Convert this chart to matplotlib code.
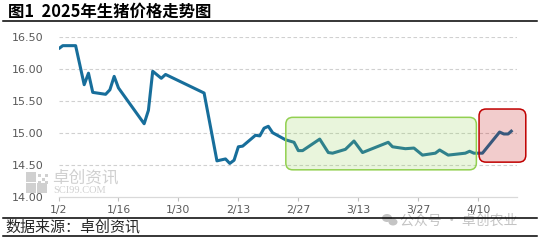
import matplotlib
matplotlib.use("Agg")
import matplotlib.pyplot as plt
import matplotlib.dates as mdates
import numpy as np
import pandas as pd
from matplotlib.patches import FancyBboxPatch, Rectangle, Ellipse
from matplotlib.transforms import IdentityTransform
from matplotlib.colors import to_rgba

# ---- data: 2025 live hog price (yuan/kg) ----
dates = ["2025-01-02", "2025-01-03", "2025-01-06", "2025-01-08", "2025-01-09",
         "2025-01-10", "2025-01-13", "2025-01-14", "2025-01-15", "2025-01-16",
         "2025-01-22", "2025-01-23", "2025-01-24", "2025-01-26", "2025-01-27",
         "2025-02-05", "2025-02-08", "2025-02-10", "2025-02-11", "2025-02-12",
         "2025-02-13", "2025-02-14", "2025-02-17", "2025-02-18", "2025-02-19",
         "2025-02-20", "2025-02-21", "2025-02-24", "2025-02-26", "2025-02-27",
         "2025-02-28", "2025-03-04", "2025-03-06", "2025-03-07", "2025-03-10",
         "2025-03-12", "2025-03-14", "2025-03-17", "2025-03-20", "2025-03-21",
         "2025-03-24", "2025-03-26", "2025-03-28", "2025-03-31", "2025-04-01",
         "2025-04-03", "2025-04-07", "2025-04-08", "2025-04-09", "2025-04-11",
         "2025-04-15", "2025-04-16", "2025-04-17", "2025-04-18"]
prices = [16.31, 16.36, 16.36, 15.75, 15.93,
          15.63, 15.60, 15.67, 15.88, 15.70,
          15.14, 15.35, 15.96, 15.85, 15.91,
          15.62, 14.56, 14.59, 14.52, 14.57,
          14.78, 14.79, 14.96, 14.95, 15.07,
          15.10, 15.00, 14.89, 14.85, 14.72,
          14.72, 14.90, 14.69, 14.68, 14.74,
          14.87, 14.69, 14.77, 14.85, 14.78,
          14.75, 14.76, 14.65, 14.68, 14.73,
          14.65, 14.68, 14.71, 14.68, 14.68,
          15.01, 14.98, 14.98, 15.04]

tick_dates = ["2025-01-02", "2025-01-16", "2025-01-30", "2025-02-13",
              "2025-02-27", "2025-03-13", "2025-03-27", "2025-04-10"]
tick_labels = ["1/2", "1/16", "1/30", "2/13", "2/27", "3/13", "3/27", "4/10"]
y_ticks = [14.0, 14.5, 15.0, 15.5, 16.0, 16.5]

title = "图1  2025年生猪价格走势图"
source = "数据来源：卓创资讯"

# highlighted periods: (start date, end date, low, high)
range_box = ("2025-02-24 02:00", "2025-04-09 14:00", 14.42, 15.24)
rise_box = ("2025-04-10 05:00", "2025-04-21 03:00", 14.54, 15.37)

plt.rcParams["font.family"] = ["DejaVu Sans", "Noto Sans CJK SC"]
cjk = ["Noto Sans CJK SC", "DejaVu Sans"]

W, H = 541, 240
fig = plt.figure(figsize=(W / 100, H / 100), dpi=100)
fig.patch.set_facecolor("white")

ax = fig.add_axes([58.5 / W, (H - 196.7) / H, (516.7 - 58.5) / W, 160 / H])
x = mdates.date2num(pd.to_datetime(dates))
x0 = mdates.date2num(pd.Timestamp("2025-01-02"))
ax.set_xlim(x0, x0 + 107)
ax.set_ylim(14.0, 16.5)

ax.plot(x, prices, color="#176E9B", lw=2.2, solid_joinstyle="round",
        solid_capstyle="butt", zorder=3)

# axes styling
for s in ["top", "right", "left"]:
    ax.spines[s].set_visible(False)
ax.spines["bottom"].set_color("#D9D9D9")
ax.spines["bottom"].set_linewidth(0.9)
ax.set_yticks(y_ticks)
ax.set_yticklabels([f"{v:.2f}" for v in y_ticks])
ax.set_xticks(mdates.date2num(pd.to_datetime(tick_dates)))
ax.set_xticklabels(tick_labels)
ax.tick_params(axis="y", length=0, pad=11, labelsize=8, labelcolor="#595959")
ax.tick_params(axis="x", length=3, width=0.8, color="#BFBFBF", pad=3,
               labelsize=7.8, labelcolor="#595959")
for v in y_ticks[1:]:
    ax.axhline(v, color="#D0D0D0", lw=0.8, ls=(0, (3.2, 2.2)), zorder=1)


def highlight(box, edge):
    xa = mdates.date2num(pd.Timestamp(box[0]))
    xb = mdates.date2num(pd.Timestamp(box[1]))
    pa = ax.transData.transform((xa, box[2]))
    pb = ax.transData.transform((xb, box[3]))
    patch = FancyBboxPatch((pa[0], pa[1]), pb[0] - pa[0], pb[1] - pa[1],
                           boxstyle="round,pad=0,rounding_size=7",
                           transform=IdentityTransform(),
                           facecolor=to_rgba(edge, 0.2), edgecolor=edge,
                           lw=1.1, zorder=4, clip_on=False)
    ax.add_patch(patch)


highlight(range_box, "#92D050")
highlight(rise_box, "#C00000")

# header and footer rules
px = fig.transFigure
for yy in [H - 21, H - 218, H - 236]:
    fig.add_artist(plt.Line2D([3 / W, 537 / W], [yy / H, yy / H],
                              color="black", lw=1.1, transform=px))

fig.text(8 / W, (H - 12) / H, title, family=cjk, fontsize=11.8,
         fontweight="bold", color="black", va="center", ha="left")
fig.text(5 / W, (H - 227) / H, source, family=cjk, fontsize=10.8,
         color="#262626", va="center", ha="left")

# SCI99 watermark logo
wm = "#D0D0D0"
for (lx, ly, s) in [(26, 172, 10), (26, 183, 10), (37, 183, 10)]:
    fig.add_artist(Rectangle((lx / W, (H - ly - s) / H), s / W, s / H,
                             transform=px, color=wm, lw=0, zorder=0))
for i in range(3):
    for j in range(3):
        if (i + j) % 2 == 0:
            fig.add_artist(Rectangle(((38 + i * 3.5) / W, (H - 174 - j * 3.5 - 3) / H),
                                     3 / W, 3 / H, transform=px, color=wm, lw=0, zorder=0))
fig.text(52 / W, (H - 178) / H, "卓创资讯", family=cjk, fontsize=12,
         color=wm, va="center", ha="left", zorder=0)
fig.text(53 / W, (H - 190.5) / H, "SCI99.COM", family=["Liberation Serif"],
         fontsize=7.5, color=wm, va="center", ha="left", zorder=0)

# account watermark
wc = "#C4C4C4"
fig.add_artist(Ellipse((387 / W, (H - 218) / H), 10 / W, 8 / H,
                       transform=px, color=wc, lw=0, zorder=0))
fig.add_artist(Ellipse((393 / W, (H - 222) / H), 9 / W, 7 / H,
                       transform=px, color=wc, lw=0, zorder=0))
fig.text(400 / W, (H - 221) / H, "公众号 · 卓创农业", family=cjk,
         fontsize=10, color=wc, va="center", ha="left", zorder=0)

fig.savefig("out.png", dpi=100, facecolor="white")
